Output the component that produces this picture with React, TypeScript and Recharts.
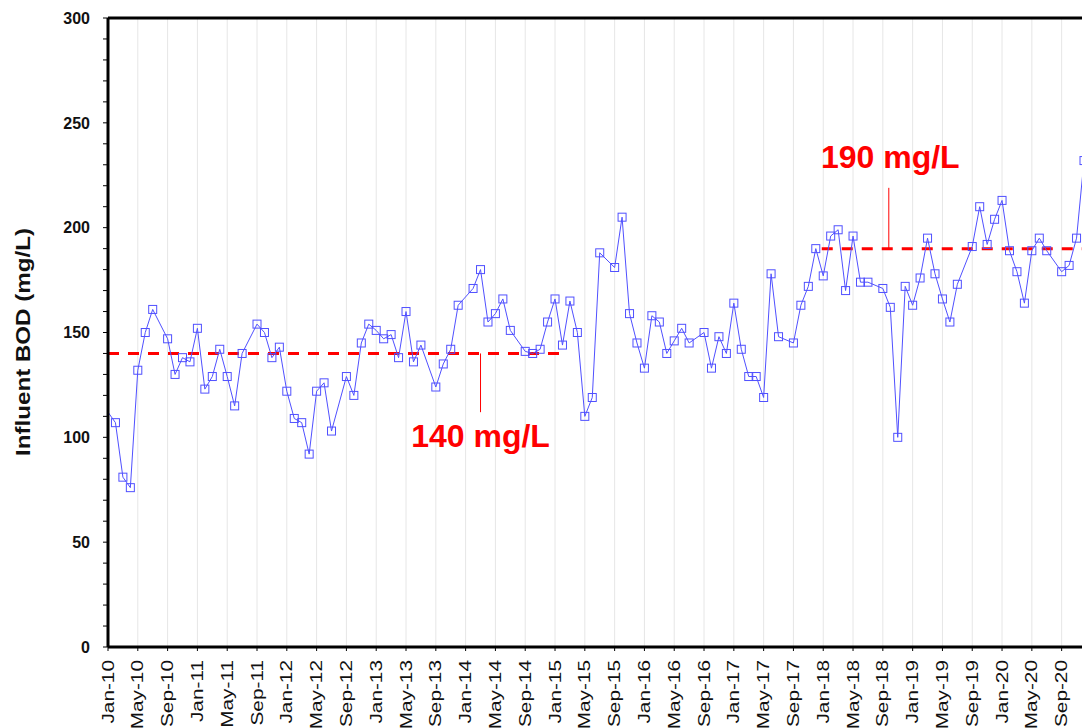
import { LineChart, Line, XAxis, YAxis, CartesianGrid, ReferenceLine, ReferenceDot } from 'recharts';

const monthNames = ['Jan', 'Feb', 'Mar', 'Apr', 'May', 'Jun', 'Jul', 'Aug', 'Sep', 'Oct', 'Nov', 'Dec'];
const years = ['10', '11', '12', '13', '14', '15', '16', '17', '18', '19', '20'];
const monthLabels = years.flatMap((yr) => monthNames.map((m) => `${m}-${yr}`));

// monthly influent BOD (mg/L), Aug samples missing
const bodValues: (number | null)[] = [
  112, 107, 81, 76, 132, 150, 161, null, 147, 130, 138, 136,
  152, 123, 129, 142, 129, 115, 140, null, 154, 150, 138, 143,
  122, 109, 107, 92, 122, 126, 103, null, 129, 120, 145, 154,
  151, 147, 149, 138, 160, 136, 144, null, 124, 135, 142, 163,
  null, 171, 180, 155, 159, 166, 151, null, 141, 140, 142, 155,
  166, 144, 165, 150, 110, 119, 188, null, 181, 205, 159, 145,
  133, 158, 155, 140, 146, 152, 145, null, 150, 133, 148, 140,
  164, 142, 129, 129, 119, 178, 148, null, 145, 163, 172, 190,
  177, 196, 199, 170, 196, 174, 174, null, 171, 162, 100, 172,
  163, 176, 195, 178, 166, 155, 173, null, 191, 210, 192, 204,
  213, 189, 179, 164, 189, 195, 189, null, 179, 182, 195, 232,
];

const xTicks = [0, 4, 8, 12, 16, 20, 24, 28, 32, 36, 40, 44, 48, 52, 56, 60, 64, 68, 72, 76, 80, 84, 88, 92, 96, 100, 104, 108, 112, 116, 120, 124, 128];
const yTicks = [0, 10, 20, 30, 40, 50, 60, 70, 80, 90, 100, 110, 120, 130, 140, 150, 160, 170, 180, 190, 200, 210, 220, 230, 240, 250, 260, 270, 280, 290, 300];

const avgEarly = 140;
const avgLate = 190;

const data = bodValues.map((v, i) => ({ idx: i, month: monthLabels[i], bod: v }));

const font = "'Liberation Sans', Arial, sans-serif";

const XTick = (props: any) => {
  const { x, y, payload } = props;
  return (
    <text
      transform={`translate(${x},${y}) scale(1,1.3) rotate(-90)`}
      textAnchor="end"
      dy="0.35em"
      fontSize={16}
      fontFamily={font}
      fill="#111"
    >
      {monthLabels[payload.value]}
    </text>
  );
};

const YTick = (props: any) => {
  const { x, y, payload } = props;
  if (payload.value % 50 !== 0) return <g />;
  return (
    <text x={x} y={y} dy="0.36em" textAnchor="end" fontSize={16} fontWeight="bold" fontFamily={font} fill="#111">
      {payload.value}
    </text>
  );
};

const YTitle = () => (
  <text
    transform="translate(30,342) scale(1,1.15) rotate(-90)"
    textAnchor="middle"
    fontSize={21}
    fontWeight="bold"
    fontFamily={font}
    fill="#111"
  >
    Influent BOD (mg/L)
  </text>
);

// first marker sits under the thick axis line in the original
const SquareDot = (props: any) => {
  const { cx, cy, index, payload } = props;
  if (cx == null || cy == null || payload?.bod == null || index === 0) return <g key={`d${index}`} />;
  return <rect key={`d${index}`} x={cx - 4} y={cy - 4} width={8} height={8} fill="none" stroke="#5050ff" strokeWidth={1} />;
};

const redLabel = { fill: '#ff0000', fontSize: 32, fontWeight: 'bold', fontFamily: font, position: 'center' as const };

export default function App() {
  return (
    <div style={{ position: 'absolute', left: 0, top: 0, width: 1082, height: 728, overflow: 'hidden', background: '#fff' }}>
      <LineChart width={1100} height={728} data={data} margin={{ top: 18, right: 16, bottom: 0, left: 0 }}>
        <CartesianGrid horizontal={false} stroke="#e6e6e6" />
        <XAxis
          dataKey="idx"
          type="number"
          domain={[0, 131]}
          ticks={xTicks}
          interval={0}
          height={81}
          tick={XTick}
          tickSize={4}
          tickMargin={9}
          tickLine={{ stroke: '#000' }}
          axisLine={{ stroke: '#000', strokeWidth: 3 }}
        />
        <YAxis
          domain={[0, 300]}
          ticks={yTicks}
          interval={0}
          width={108}
          tick={YTick}
          tickSize={5}
          tickMargin={13}
          tickLine={{ stroke: '#000' }}
          axisLine={{ stroke: '#000', strokeWidth: 3 }}
          label={{ content: YTitle }}
        />
        <ReferenceLine y={300} stroke="#000" strokeWidth={3} />
        <ReferenceLine segment={[{ x: 0, y: avgEarly }, { x: 61.5, y: avgEarly }]} stroke="#ff0000" strokeWidth={3} strokeDasharray="11 9" />
        <ReferenceLine segment={[{ x: 95.8, y: avgLate }, { x: 131, y: avgLate }]} stroke="#ff0000" strokeWidth={3} strokeDasharray="11 9" />
        <ReferenceLine segment={[{ x: 50, y: avgEarly }, { x: 50, y: 112 }]} stroke="#ff0000" strokeWidth={1} />
        <ReferenceLine segment={[{ x: 104.8, y: avgLate }, { x: 104.8, y: 219 }]} stroke="#ff0000" strokeWidth={1} />
        <ReferenceDot x={50} y={101} r={0} stroke="none" fill="none" label={{ ...redLabel, value: `${avgEarly} mg/L` }} />
        <ReferenceDot x={105} y={234} r={0} stroke="none" fill="none" label={{ ...redLabel, value: `${avgLate} mg/L` }} />
        <Line
          type="linear"
          dataKey="bod"
          stroke="#5050ff"
          strokeWidth={1}
          connectNulls
          dot={SquareDot}
          activeDot={false}
          isAnimationActive={false}
        />
      </LineChart>
    </div>
  );
}
